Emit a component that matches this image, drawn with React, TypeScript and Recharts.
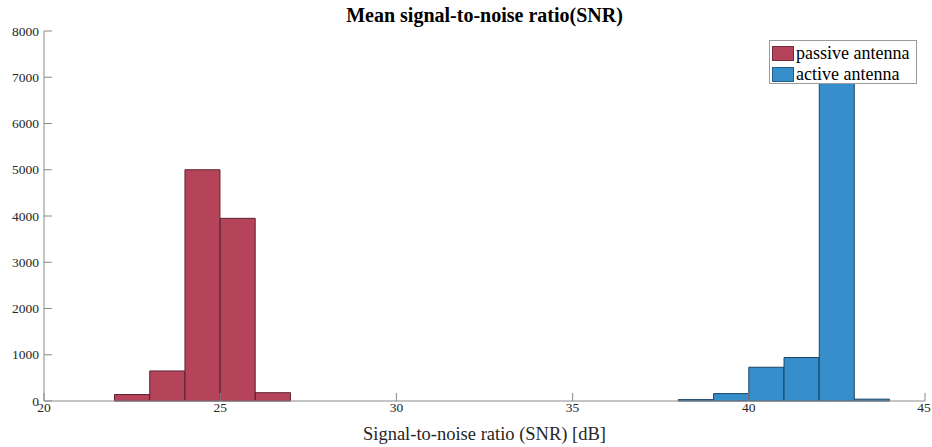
import React from 'react';
import { BarChart, Bar, XAxis, YAxis, Legend } from 'recharts';

// Histogram bin left edges (1 dB wide bins spanning the visible x range)
const binEdges = [20, 21, 22, 23, 24, 25, 26, 27, 28, 29, 30, 31, 32, 33, 34, 35, 36, 37, 38, 39, 40, 41, 42, 43, 44];

// Passive antenna SNR histogram
const passiveBins = [22, 23, 24, 25, 26];
const passiveCounts = [140, 650, 5000, 3950, 180];

// Active antenna SNR histogram
const activeBins = [38, 39, 40, 41, 42, 43];
const activeCounts = [30, 160, 730, 940, 7500, 40];

const seriesNames = ['passive antenna', 'active antenna'];
const xTicks = [20, 25, 30, 35, 40, 45];
const yTicks = [0, 1000, 2000, 3000, 4000, 5000, 6000, 7000, 8000];

const PASSIVE_COLOR = '#B5445A';
const ACTIVE_COLOR = '#368ECB';
const FONT = '"Liberation Serif", "Times New Roman", serif';
const TICK_FONT_SIZE = 13.5;
const tickTextStyle = { fontFamily: FONT, fontSize: TICK_FONT_SIZE, fill: '#262626' };

const table = binEdges.map((lo) => {
  const pi = passiveBins.indexOf(lo);
  const ai = activeBins.indexOf(lo);
  return {
    lo,
    passive: pi >= 0 ? passiveCounts[pi] : null,
    active: ai >= 0 ? activeCounts[ai] : null,
  };
});

const LegendBox = (props: any) => {
  const items = [...(props.payload || [])].sort(
    (a: any, b: any) => seriesNames.indexOf(a.value) - seriesNames.indexOf(b.value)
  );
  return (
    <div
      style={{
        boxSizing: 'border-box',
        width: 148,
        height: 44,
        border: '1px solid #9a9a9a',
        background: '#fff',
        fontFamily: FONT,
        fontSize: 18,
        color: '#000',
        padding: '2px 0 0 2px',
      }}
    >
      {items.map((it: any) => (
        <div key={it.value} style={{ display: 'flex', alignItems: 'center', height: 20, marginBottom: 1 }}>
          <span
            style={{
              display: 'inline-block',
              width: 22,
              height: 15,
              background: it.color,
              border: '1px solid rgba(0,0,0,0.35)',
              boxSizing: 'border-box',
              marginRight: 2,
            }}
          />
          <span style={{ lineHeight: '20px' }}>{it.value}</span>
        </div>
      ))}
    </div>
  );
};

// Serif tick labels for the value axis (vertically centred on the tick)
const YTick = (props: any) => (
  <text x={props.x} y={props.y} dy="0.35em" textAnchor="end" style={tickTextStyle}>
    {props.payload.value}
  </text>
);

// Serif tick labels for the SNR axis (hanging below the axis line)
const XTick = (props: any) => (
  <text x={props.x} y={props.y} dy="0.72em" textAnchor="middle" style={tickTextStyle}>
    {props.payload.value}
  </text>
);

export default function App() {
  return (
    <div style={{ position: 'absolute', left: 0, top: 0, width: 932, height: 447, background: '#fff', fontFamily: FONT }}>
      <div
        style={{
          position: 'absolute',
          left: 44,
          width: 881,
          top: 3,
          textAlign: 'center',
          fontFamily: FONT,
          fontWeight: 'bold',
          fontSize: 20,
          color: '#000',
          lineHeight: '24px',
        }}
      >
        Mean signal-to-noise ratio(SNR)
      </div>
      <BarChart
        width={932}
        height={447}
        data={table}
        margin={{ top: 31, right: 7, bottom: 16, left: 0 }}
        barCategoryGap={0}
        barGap={0}
      >
        <XAxis xAxisId="bins" dataKey="lo" type="category" orientation="top" height={0} hide />
        <XAxis
          xAxisId="num"
          dataKey="lo"
          type="number"
          domain={[20, 45]}
          ticks={xTicks}
          allowDataOverflow
          height={30}
          stroke="#8a8a8a"
          tickSize={-8}
          tickMargin={9}
          tick={XTick}
          label={{
            value: 'Signal-to-noise ratio (SNR) [dB]',
            position: 'bottom',
            offset: -4,
            style: { fill: '#262626', fontFamily: FONT, fontSize: 18.5 },
          }}
        />
        <YAxis
          domain={[0, 8000]}
          ticks={yTicks}
          width={44}
          stroke="#8a8a8a"
          tickSize={-8}
          tickMargin={13}
          interval={0}
          tick={YTick}
        />
        <Legend
          layout="horizontal"
          verticalAlign="middle"
          align="center"
          content={LegendBox}
          wrapperStyle={{ top: 40, left: 769, width: 148, height: 44 }}
        />
        <Bar
          xAxisId="bins"
          dataKey="passive"
          name={seriesNames[0]}
          stackId="h"
          fill={PASSIVE_COLOR}
          stroke="#5e2230"
          strokeWidth={1}
          isAnimationActive={false}
        />
        <Bar
          xAxisId="bins"
          dataKey="active"
          name={seriesNames[1]}
          stackId="h"
          fill={ACTIVE_COLOR}
          stroke="#1c4566"
          strokeWidth={1}
          isAnimationActive={false}
        />
      </BarChart>
    </div>
  );
}
